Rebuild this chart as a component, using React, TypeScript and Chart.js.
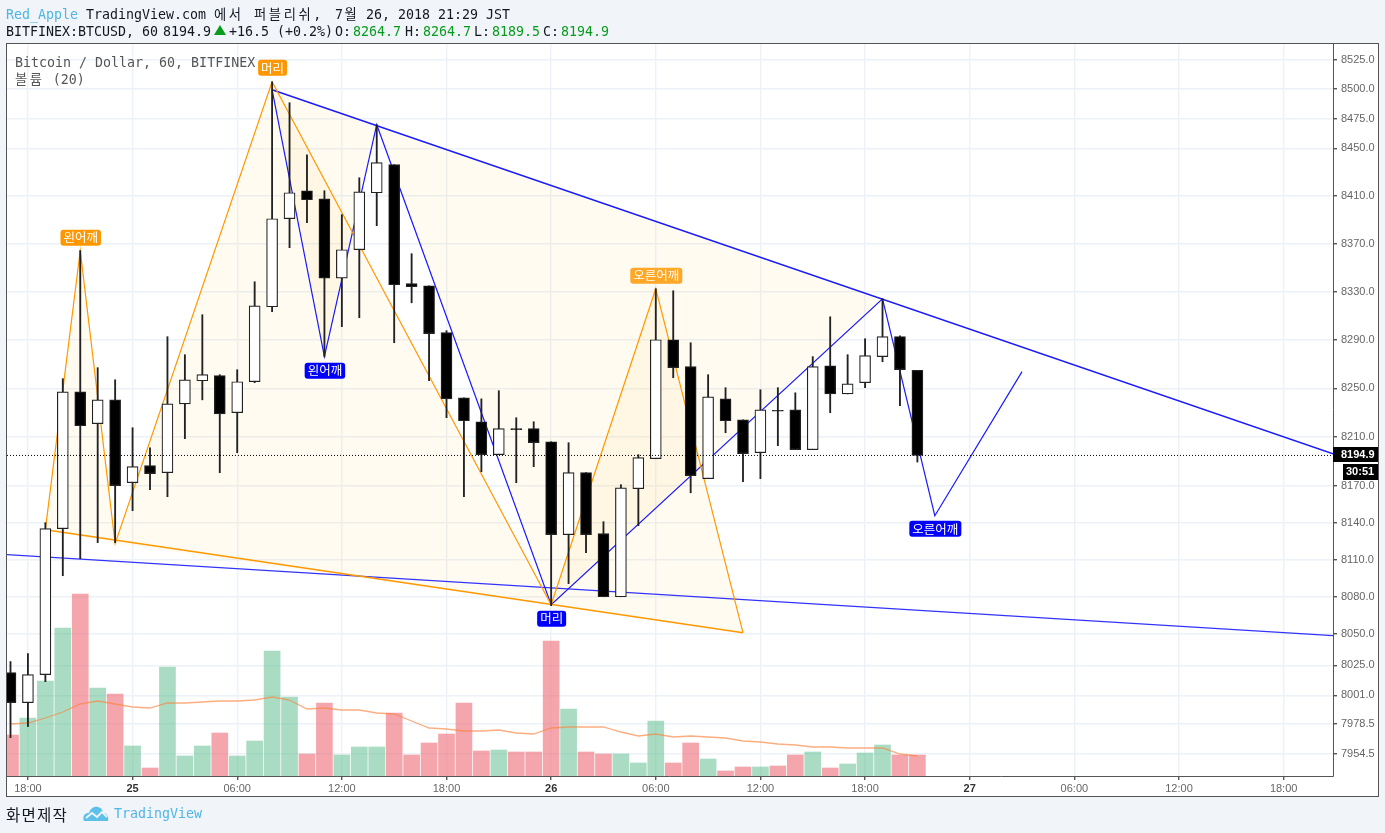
import React, { useEffect, useRef } from "react";
import { Chart, registerables } from "chart.js";

Chart.register(...registerables);

// hours since 24 Jul 18:00 for each hourly candle
const hours = [-1,0,1,2,3,4,5,6,7,8,9,10,11,12,13,14,15,16,17,18,19,20,21,22,23,24,25,26,27,28,29,30,31,32,33,34,35,36,37,38,39,40,41,42,43,44,45,46,47,48,49,50,51];
const opens = [8019.2,7995.1,8017.6,8135.2,8247.1,8220.9,8240.5,8172.6,8186.5,8180.8,8237.2,8256.2,8260.4,8229.9,8255.4,8317.4,8390.8,8414.3,8407.5,8341.2,8364.9,8412.6,8436.2,8336.6,8334.9,8295.9,8242.1,8222.5,8195.5,8216.8,8216.8,8206.1,8130.3,8180.8,8131.2,8080.1,8167.7,8192.2,8290.1,8267.8,8175.9,8241.3,8224.1,8197.1,8231.9,8232.3,8199.6,8268.6,8245.4,8254.6,8276.1,8292.6,8264.7];
const highs = [8028.0,8034.4,8140.1,8257.9,8364.1,8267.0,8257.0,8217.6,8201.2,8292.6,8277.7,8310.8,8261.2,8265.3,8338.2,8506.3,8488.5,8444.6,8414.3,8394.2,8425.2,8469.9,8436.2,8361.6,8334.9,8297.6,8242.1,8241.3,8248.0,8225.8,8222.5,8206.1,8205.3,8180.8,8140.9,8171.0,8195.5,8332.4,8330.7,8287.6,8261.2,8250.5,8224.1,8248.8,8250.5,8246.3,8276.1,8309.1,8277.7,8290.9,8324.0,8293.4,8264.7];
const lows = [7967.3,7976.1,8011.9,8097.1,8110.9,8123.9,8123.9,8149.8,8166.9,8161.2,8208.6,8240.5,8180.8,8197.1,8254.6,8313.3,8366.6,8387.5,8276.1,8300.9,8308.3,8385.0,8287.6,8320.7,8256.2,8225.8,8161.2,8181.6,8195.5,8172.6,8185.7,8072.9,8090.7,8115.8,8080.1,8080.1,8137.6,8192.2,8258.7,8164.4,8175.9,8213.5,8173.4,8175.9,8202.9,8199.6,8199.6,8229.9,8245.4,8250.5,8271.9,8235.6,8189.5];
const closes = [7995.1,8017.6,8135.2,8247.1,8219.2,8240.5,8170.2,8185.7,8180.0,8237.2,8257.0,8261.2,8229.0,8255.4,8318.2,8390.8,8412.6,8406.7,8341.2,8364.9,8413.4,8437.9,8335.7,8334.1,8295.1,8241.3,8223.3,8195.5,8216.8,8216.0,8205.3,8130.3,8180.8,8130.3,8080.1,8168.5,8193.1,8290.1,8267.0,8178.3,8243.0,8223.3,8196.3,8232.3,8231.1,8199.6,8267.8,8245.4,8253.7,8276.9,8292.6,8265.3,8194.9];
const volumes = [410,580,950,1480,1820,880,820,300,80,1090,200,300,430,200,350,1250,790,220,730,210,290,290,630,210,330,420,730,250,260,240,240,1350,670,240,220,220,130,550,130,330,170,50,90,90,100,210,240,80,120,230,310,210,210];
const volumeMA = [520,530,580,640,720,750,720,690,680,730,730,740,750,750,760,790,760,670,680,660,660,630,620,550,480,470,450,450,460,430,420,480,490,490,490,440,400,420,390,400,390,380,350,340,320,310,290,290,280,280,280,220,200];

// drawn patterns
const orangeHours = [1,3,5,14,30,36,41];
const orangePrices = [8134.4,8364.1,8123.1,8506.3,8073.7,8332.4,8051.2];
const blueHours = [14,17,20,30,49,52,57];
const bluePrices = [8499.5,8276.1,8469.9,8073.7,8324.0,8145.7,8263.7];
const upperTrendHours = [14,74.83];
const upperTrendPrices = [8499.5,8196.3];
const lowerTrendHours = [-1.2,74.83];
const lowerTrendPrices = [8114.2,8048.8];
const lastPrice = 8194.9;
const countdown = "30:51";

// axes
const priceTicks = [8525,8500,8475,8450,8410,8370,8330,8290,8250,8210,8170,8140,8110,8080,8050,8025,8001,7978.5,7954.5];
const timeTickHours = [0,6,12,18,24,30,36,42,48,54,60,66,72];
const timeTickLabels = ["18:00","25","06:00","12:00","18:00","26","06:00","12:00","18:00","27","06:00","12:00","18:00"];
const dateLabels = ["25","26","27"];

// pattern labels
const tagTexts = ["왼어깨","머리","오른어깨","왼어깨","머리","오른어깨"];
const tagHours = [3,14,36,17,30,52];
const tagPrices = [8364.1,8506.3,8332.4,8276.1,8073.7,8145.7];
const tagGaps = [-13,-14,-13,14,14,13];
const tagColors = ["#ff9800","#ff9800","#ffa726","#0000ff","#0000ff","#0000ff"];

const ORANGE = "#ff9800";
const BLUE = "#1a1aff";
const FILL = "rgba(255,190,0,0.055)";
const GRID = "#ecf2f7";
const PAGE = "#f1f4f8";
const FRAME = "#555555";
const MONO = '"DejaVu Sans Mono", "Noto Sans CJK KR", monospace';
const SANS = '"Liberation Sans", Arial, sans-serif';

const pts = (xs: number[], ys: number[]) => xs.map((x, i) => ({ x, y: ys[i] }));

const lineSet = (data: any[], color: string, width: number, order: number, extra: any = {}) => ({
  type: "line",
  data,
  yAxisID: "y",
  borderColor: color,
  borderWidth: width,
  pointRadius: 0,
  tension: 0,
  fill: false,
  order,
  ...extra,
});

const polygon = (xs: number[], ys: number[], from: number, order: number) =>
  lineSet(pts(xs.slice(from, from + 3), ys.slice(from, from + 3)), "rgba(0,0,0,0)", 0, order, {
    fill: "shape",
    backgroundColor: FILL,
  });

const paperPlugin = {
  id: "paper",
  beforeDraw(chart: any) {
    const { ctx, width, height } = chart;
    ctx.save();
    ctx.fillStyle = PAGE;
    ctx.fillRect(0, 0, width, height);
    ctx.fillStyle = "#ffffff";
    ctx.fillRect(6, 43, 1373, 754);
    ctx.restore();
  },
  afterDraw(chart: any) {
    const { ctx, chartArea: a, scales } = chart;
    const x = scales.x;
    const y = scales.y;
    ctx.save();
    // frame and axis lines
    ctx.strokeStyle = FRAME;
    ctx.lineWidth = 1;
    ctx.strokeRect(6.5, 43.5, 1372, 753);
    ctx.beginPath();
    ctx.moveTo(a.right + 0.5, 43);
    ctx.lineTo(a.right + 0.5, a.bottom + 0.5);
    ctx.lineTo(6, a.bottom + 0.5);
    ctx.stroke();

    // pattern tags
    ctx.textAlign = "center";
    ctx.textBaseline = "middle";
    ctx.font = '12.5px "Noto Sans CJK KR"';
    tagTexts.forEach((text, i) => {
      const px = x.getPixelForValue(tagHours[i]) + 0.5;
      const py = y.getPixelForValue(tagPrices[i]) + tagGaps[i];
      const w = ctx.measureText(text).width + 6;
      ctx.fillStyle = tagColors[i];
      ctx.beginPath();
      ctx.roundRect(px - w / 2, py - 8, w, 16, 3);
      ctx.fill();
      ctx.fillStyle = "#ffffff";
      ctx.fillText(text, px, py);
    });

    // last price tags
    const py = Math.round(y.getPixelForValue(lastPrice));
    ctx.fillStyle = "#000000";
    ctx.fillRect(a.right, py - 8, 45, 15);
    ctx.fillRect(a.right + 10, py + 9, 35, 16);
    ctx.fillStyle = "#ffffff";
    ctx.textAlign = "left";
    ctx.font = `bold 11px ${SANS}`;
    ctx.fillText(lastPrice.toFixed(1), a.right + 8, py);
    ctx.fillText(countdown, a.right + 13, py + 17);
    ctx.restore();
  },
};

const abs = (left: number, top: number, color: string, size = 13.3): React.CSSProperties => ({
  position: "absolute",
  left,
  top,
  color,
  fontFamily: MONO,
  fontSize: size,
  lineHeight: "16px",
  whiteSpace: "pre",
});

const INK = "#131722";
const headerOne: [number, string, string, number][] = [
  [6, "Red_Apple", "#4fb6e6", 0],
  [86, "TradingView.com", INK, 0],
  [214, "에서", INK, 2.6],
  [254, "퍼블리쉬,", INK, 2.6],
  [335, "7월", INK, 1.5],
  [366, "26,", INK, 0],
  [398, "2018", INK, 0],
  [438, "21:29", INK, 0],
  [486, "JST", INK, 0],
];
const GREEN = "#089c1c";
const headerTwo: [number, string, string][] = [
  [6, "BITFINEX:BTCUSD, 60", INK],
  [163, "8194.9", INK],
  [229, "+16.5 (+0.2%)", INK],
  [335, "O:", INK],
  [353, "8264.7", GREEN],
  [405, "H:", INK],
  [423, "8264.7", GREEN],
  [474, "L:", INK],
  [492, "8189.5", GREEN],
  [543, "C:", INK],
  [561, "8194.9", GREEN],
];

export default function App() {
  const ref = useRef<HTMLCanvasElement>(null);

  useEffect(() => {
    if (!ref.current) return;
    const isUp = (i: number) => closes[i] >= opens[i];
    const volColors = hours.map((_, i) => (isUp(i) ? "rgba(83,185,135,0.5)" : "rgba(235,77,92,0.5)"));
    const bodyColors = hours.map((_, i) => (isUp(i) ? "#ffffff" : "#000000"));

    const chart = new Chart(ref.current, {
      data: {
        datasets: [
          lineSet(pts(lowerTrendHours, [lastPrice, lastPrice]), "#000000", 1, 0, { borderDash: [1, 2] }),
          {
            type: "bar",
            data: hours.map((x, i) => ({ x, y: [opens[i], closes[i]] })),
            yAxisID: "y",
            backgroundColor: bodyColors,
            borderColor: "#222222",
            borderWidth: 1.2,
            borderSkipped: false,
            barThickness: 11,
            grouped: false,
            order: 1,
          },
          {
            type: "bar",
            data: hours.map((x, i) => ({ x, y: [lows[i], highs[i]] })),
            yAxisID: "y",
            backgroundColor: "#222222",
            borderWidth: 0,
            barThickness: 1.2,
            grouped: false,
            order: 2,
          },
          lineSet(pts(orangeHours, orangePrices), ORANGE, 1.2, 3),
          lineSet(pts([orangeHours[0], orangeHours[6]], [orangePrices[0], orangePrices[6]]), ORANGE, 1.5, 3),
          lineSet(pts(blueHours, bluePrices), BLUE, 1.2, 3),
          lineSet(pts(upperTrendHours, upperTrendPrices), BLUE, 1.4, 3),
          lineSet(pts(lowerTrendHours, lowerTrendPrices), "#3333ff", 1.2, 3),
          polygon(orangeHours, orangePrices, 0, 4),
          polygon(orangeHours, orangePrices, 2, 4),
          polygon(orangeHours, orangePrices, 4, 4),
          polygon(blueHours, bluePrices, 0, 4),
          polygon(blueHours, bluePrices, 2, 4),
          {
            type: "line",
            data: pts(hours, volumeMA),
            yAxisID: "yVol",
            borderColor: "rgba(250,130,60,0.65)",
            borderWidth: 1.3,
            pointRadius: 0,
            tension: 0,
            fill: false,
            order: 5,
          },
          {
            type: "bar",
            data: hours.map((x, i) => ({ x, y: volumes[i] })),
            yAxisID: "yVol",
            backgroundColor: volColors,
            barThickness: 16,
            grouped: false,
            order: 6,
          },
        ] as any,
      },
      options: {
        animation: false,
        responsive: false,
        layout: { padding: { left: 7, top: 44, right: 6, bottom: 36 } },
        plugins: { legend: { display: false }, tooltip: { enabled: false } },
        scales: {
          x: {
            type: "linear",
            offset: false,
            bounds: "data",
            min: -1.2,
            max: 74.83,
            afterBuildTicks(axis: any) {
              axis.ticks = timeTickHours.map((value) => ({ value }));
            },
            afterFit(axis: any) {
              axis.height = 21;
            },
            grid: { color: GRID, lineWidth: 1.4, offset: false, tickColor: "#555555", tickLength: 4, drawTicks: true },
            border: { display: false },
            ticks: {
              autoSkip: false,
              maxRotation: 0,
              padding: 2,
              callback: (value: any) => timeTickLabels[timeTickHours.indexOf(value)],
              color: (c: any) =>
                dateLabels.includes(timeTickLabels[timeTickHours.indexOf(c.tick?.value)]) ? "#333333" : "#666666",
              font: (c: any) => ({
                family: SANS,
                size: 11,
                weight: dateLabels.includes(timeTickLabels[timeTickHours.indexOf(c.tick?.value)]) ? "bold" : "normal",
              }),
            },
          },
          y: {
            type: "logarithmic",
            position: "right",
            min: 7936.84,
            max: 8538.43,
            afterBuildTicks(axis: any) {
              axis.ticks = priceTicks.map((value) => ({ value }));
            },
            afterFit(axis: any) {
              axis.width = 46;
            },
            grid: { color: GRID, lineWidth: 1.4, tickColor: "#555555", tickLength: 4 },
            border: { display: false },
            ticks: {
              autoSkip: false,
              padding: 4,
              color: "#666666",
              font: { family: SANS, size: 11 },
              callback: (value: any) => Number(value).toFixed(1),
            },
          },
          yVol: { type: "linear", display: false, min: 0, max: 7320 },
        },
      } as any,
      plugins: [paperPlugin],
    } as any);
    return () => chart.destroy();
  }, []);

  return (
    <div style={{ position: "fixed", left: 0, top: 0, width: 1385, height: 833, overflow: "hidden" }}>
      <canvas ref={ref} width={1385} height={833} style={{ position: "absolute", left: 0, top: 0, display: "block" }} />
      {headerOne.map(([x, t, c, ls], i) => (
        <span key={"a" + i} style={{ ...abs(x, 7, c), letterSpacing: ls }}>{t}</span>
      ))}
      {headerTwo.map(([x, t, c], i) => (
        <span key={"b" + i} style={abs(x, 24, c)}>{t}</span>
      ))}
      <span
        style={{
          position: "absolute",
          left: 214,
          top: 25,
          width: 0,
          height: 0,
          borderLeft: "6px solid transparent",
          borderRight: "6px solid transparent",
          borderBottom: "10px solid #089c1c",
        }}
      />
      <span style={abs(15, 55, "#555555")}>Bitcoin / Dollar, 60, BITFINEX</span>
      <span style={{ ...abs(15, 72, "#555555"), letterSpacing: 0 }}>
        <span style={{ letterSpacing: 2.6 }}>볼륨</span> (20)
      </span>
      <span
        style={{
          ...abs(6, 804, INK, 15.5),
          fontFamily: '"Noto Sans CJK KR"',
          letterSpacing: 1.2,
          lineHeight: "20px",
        }}
      >
        화면제작
      </span>
      <svg width="26" height="16" viewBox="0 0 26 16" style={{ position: "absolute", left: 83, top: 806 }}>
        <path d="M1 15 C-1 10 2 7 6 7 C7 3 11 0 15 1 C19 2 20 5 20 7 C24 7 26 11 25 15 Z" fill="#5cc0ea" />
        <path d="M3 12 L9 7 L14 11 L19 6 L24 11" fill="none" stroke="#f1f4f8" strokeWidth="1.8" />
      </svg>
      <span style={abs(114, 806, "#4fb6e6")}>TradingView</span>
    </div>
  );
}
